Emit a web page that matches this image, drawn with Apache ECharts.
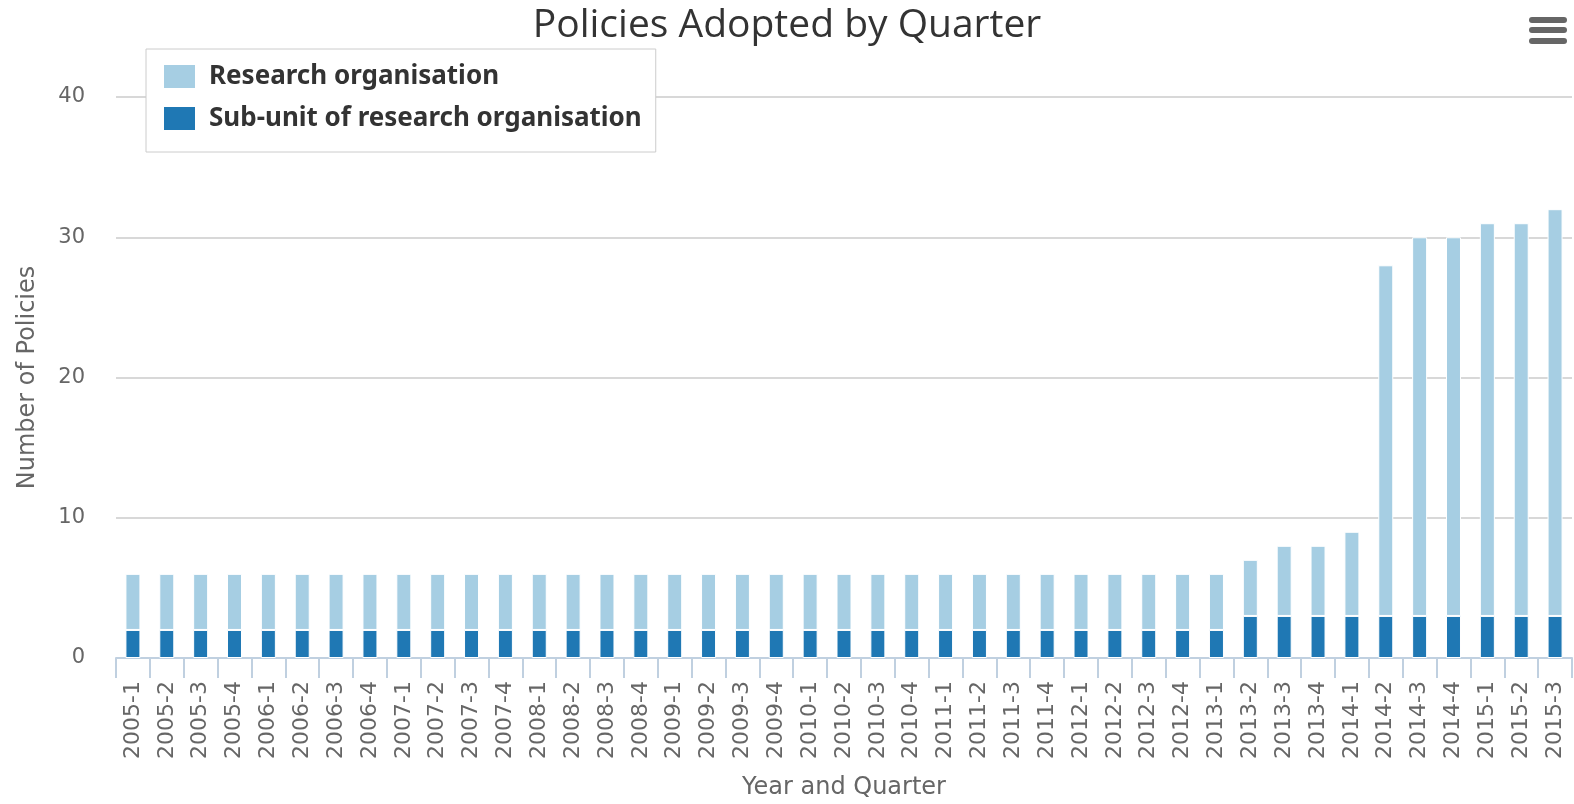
<!DOCTYPE html>
<html>
<head>
<meta charset="utf-8">
<script src="https://cdn.jsdelivr.net/npm/echarts@6/dist/echarts.min.js"></script>
<style>
html,body{margin:0;padding:0;background:#fff;}
#c{width:1574px;height:804px;}
</style>
</head>
<body>
<div id="c"></div>
<script>
var categories = ['2005-1','2005-2','2005-3','2005-4','2006-1','2006-2','2006-3','2006-4',
  '2007-1','2007-2','2007-3','2007-4','2008-1','2008-2','2008-3','2008-4',
  '2009-1','2009-2','2009-3','2009-4','2010-1','2010-2','2010-3','2010-4',
  '2011-1','2011-2','2011-3','2011-4','2012-1','2012-2','2012-3','2012-4',
  '2013-1','2013-2','2013-3','2013-4','2014-1','2014-2','2014-3','2014-4',
  '2015-1','2015-2','2015-3'];
var researchOrg = [4,4,4,4,4,4,4,4,4,4,4,4,4,4,4,4,4,4,4,4,4,4,4,4,4,4,4,4,4,4,4,4,4,
  4,5,5,6,25,27,27,28,28,29];
var subUnit = [2,2,2,2,2,2,2,2,2,2,2,2,2,2,2,2,2,2,2,2,2,2,2,2,2,2,2,2,2,2,2,2,2,
  3,3,3,3,3,3,3,3,3,3];
var yTicks = {min:0, max:40, interval:10};

var chart = echarts.init(document.getElementById('c'));
var font = 'DejaVu Sans';
chart.setOption({
  animation:false,
  backgroundColor:'#ffffff',
  title:{
    text:'Policies Adopted by Quarter',
    left:'center', top:1,
    textStyle:{fontFamily:'Open Sans', fontSize:39, fontWeight:'normal', color:'#333333'}
  },
  legend:{
    orient:'vertical', left:146, top:49,
    data:['Research organisation','Sub-unit of research organisation'],
    padding:[14,14,20,16],
    borderColor:'#cccccc', borderWidth:1, backgroundColor:'#ffffff',
    itemWidth:33, itemHeight:25, itemGap:15,
    icon:'rect',
    textStyle:{fontFamily:'Noto Sans', fontSize:26, fontWeight:'bold', color:'#333333', padding:[0,0,0,8]}
  },
  grid:{left:116, right:2, top:97, bottom:146, containLabel:false, outerBoundsMode:'none'},
  xAxis:{
    type:'category', data:categories, boundaryGap:true,
    name:'Year and Quarter', nameLocation:'middle', nameGap:118,
    nameTextStyle:{fontFamily:font, fontSize:24, color:'#666666'},
    axisLine:{lineStyle:{color:'#C0D0E0', width:2}},
    axisTick:{show:true, length:20, lineStyle:{color:'#C0D0E0', width:2}},
    axisLabel:{interval:0, rotate:90, margin:23, fontFamily:font, fontSize:22, color:'#666666'}
  },
  yAxis:{
    type:'value', min:yTicks.min, max:yTicks.max, interval:yTicks.interval,
    name:'Number of Policies', nameLocation:'middle', nameGap:76, nameRotate:90,
    nameTextStyle:{fontFamily:font, fontSize:24, color:'#666666'},
    axisLine:{show:false}, axisTick:{show:false},
    axisLabel:{margin:31, fontFamily:font, fontSize:21, color:'#666666'},
    splitLine:{lineStyle:{color:'#D8D8D8', width:2}}
  },
  series:[
    {name:'Sub-unit of research organisation', type:'bar', stack:'t', data:subUnit, barWidth:15,
      itemStyle:{color:'#1F78B4', borderColor:'#ffffff', borderWidth:1}},
    {name:'Research organisation', type:'bar', stack:'t', data:researchOrg, barWidth:15,
      itemStyle:{color:'#A6CEE3', borderColor:'#ffffff', borderWidth:1}}
  ],
  graphic:[
    {type:'rect', left:1529, top:17, shape:{width:38, height:6, r:3}, style:{fill:'#666666'}},
    {type:'rect', left:1529, top:27, shape:{width:38, height:6, r:3}, style:{fill:'#666666'}},
    {type:'rect', left:1529, top:38, shape:{width:38, height:6, r:3}, style:{fill:'#666666'}}
  ]
});
</script>
</body>
</html>
